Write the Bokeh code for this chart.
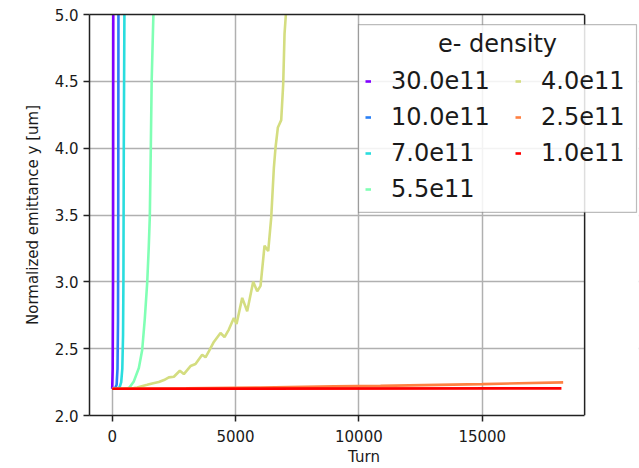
from bokeh.plotting import figure
from bokeh.models import (Legend, LegendItem, Label, FixedTicker, PrintfTickFormatter,
                          Range1d, LinearAxis, Span, BoxAnnotation)
from bokeh.embed import file_html
from bokeh.resources import INLINE

# Electron cloud density scan: vertical normalized emittance vs turn number
densities = ["30.0e11", "10.0e11", "7.0e11", "5.5e11", "4.0e11", "2.5e11", "1.0e11"]
colors = ["#8000ff", "#2a80f6", "#2addde", "#80ffb4", "#d4dd80", "#ff8042", "#ff0000"]

turns_30 = [0, 20, 35, 45]
emit_30 = [2.2, 2.35, 3.0, 5.3]

turns_10 = [0, 120, 180, 215, 235, 245, 255]
emit_10 = [2.2, 2.205, 2.23, 2.35, 2.7, 3.5, 5.3]

turns_7 = [0, 200, 300, 365, 410, 440, 455, 470, 495, 510]
emit_7 = [2.2, 2.202, 2.21, 2.25, 2.35, 2.6, 3.0, 4.0, 5.0, 5.3]

turns_55 = [0, 600, 700, 876, 1080, 1216, 1320, 1418, 1480, 1525, 1565, 1600, 1670, 1700]
emit_55 = [2.2, 2.201, 2.21, 2.255, 2.355, 2.49, 2.72, 2.99, 3.25, 3.49, 4.0, 4.5, 5.0, 5.3]

turns_40 = [0, 500, 877, 1013, 1420, 1620, 1890, 2100, 2296, 2500, 2742, 2904, 3175,
            3377, 3647, 3782, 3917, 4120, 4390, 4553, 4728, 4931, 5040, 5270, 5472,
            5715, 5878, 6013, 6175, 6324, 6446, 6554, 6621, 6716, 6851, 6932, 6986,
            7040, 7060]
emit_40 = [2.2, 2.201, 2.205, 2.21, 2.23, 2.24, 2.25, 2.265, 2.285, 2.29, 2.335, 2.31,
           2.37, 2.385, 2.455, 2.435, 2.48, 2.55, 2.617, 2.587, 2.643, 2.73, 2.685,
           2.88, 2.78, 3.0, 2.93, 2.97, 3.27, 3.23, 3.48, 3.855, 4.005, 4.155, 4.21,
           4.48, 4.855, 5.0, 5.2]

turns_25 = [0, 3000, 6000, 9000, 10876, 15000, 18280]
emit_25 = [2.2, 2.203, 2.21, 2.218, 2.222, 2.235, 2.248]

turns_10e = [0, 18210]
emit_10e = [2.2, 2.203]

x_ticks = [0, 5000, 10000, 15000]
y_ticks = [2.0, 2.5, 3.0, 3.5, 4.0, 4.5, 5.0]

series = [
    (turns_30, emit_30),
    (turns_10, emit_10),
    (turns_7, emit_7),
    (turns_55, emit_55),
    (turns_40, emit_40),
    (turns_25, emit_25),
    (turns_10e, emit_10e),
]

# axes box limits in data units; the canvas extends further right for the legend
X_LO, X_HI = -920, 19150
FONT = "DejaVu Sans"
TEXT = "#1a1a1a"
SPINE = "#222222"

p = figure(width=639, height=468, output_backend="svg", toolbar_location=None,
           x_range=Range1d(X_LO, 21334), y_range=Range1d(2.0, 5.0),
           min_border_left=89, min_border_right=1, min_border_top=14,
           min_border_bottom=53)
p.background_fill_color = "white"
p.border_fill_color = "white"
p.outline_line_color = None

renderers = []
for (xs, ys), c in zip(series, colors):
    r = p.line(xs, ys, line_color=c, line_width=2.6)
    renderers.append(r)

for ax in (p.xaxis[0], p.yaxis[0]):
    ax.axis_line_color = SPINE
    ax.axis_line_width = 1.5
    ax.major_tick_line_color = SPINE
    ax.major_tick_line_width = 1.5
    ax.major_tick_out = 6
    ax.major_tick_in = 0
    ax.minor_tick_line_color = None
    ax.major_label_text_font = FONT
    ax.major_label_text_font_size = "15px"
    ax.major_label_text_color = TEXT
    ax.axis_label_text_font = FONT
    ax.axis_label_text_font_size = "15px"
    ax.axis_label_text_font_style = "normal"
    ax.axis_label_text_color = TEXT

p.xaxis.ticker = FixedTicker(ticks=x_ticks)
p.xaxis.bounds = (X_LO, X_HI)
p.yaxis.ticker = FixedTicker(ticks=y_ticks)
p.yaxis.formatter = PrintfTickFormatter(format="%.1f")
p.xaxis.axis_label = "Turn"
p.yaxis.axis_label = "Normalized emittance y [um]"
p.xaxis.major_label_standoff = 8
p.xaxis.axis_label_standoff = 3
p.yaxis.major_label_standoff = 5
p.yaxis.axis_label_standoff = 10

p.grid.grid_line_color = "#b0b0b0"
p.grid.grid_line_width = 1.5

# top spine
top = LinearAxis(ticker=FixedTicker(ticks=[]), bounds=(X_LO, X_HI),
                 axis_line_color=SPINE, axis_line_width=1.5,
                 major_tick_line_color=None, minor_tick_line_color=None,
                 major_label_text_font_size="0px")
p.add_layout(top, "above")

# blank out the canvas strip right of the axes box, then the right spine
p.add_layout(BoxAnnotation(left=X_HI, fill_color="white", fill_alpha=1.0,
                           line_color=None))
p.add_layout(Span(location=X_HI, dimension="height", line_color=SPINE,
                  line_width=1.5))

# legend frame (semi-opaque white box) and its centred heading
p.add_layout(BoxAnnotation(left=9984, right=21253, top=4.925, bottom=3.519,
                           fill_color="white", fill_alpha=0.85,
                           line_color=SPINE, line_width=1.2))
p.add_layout(Label(x=15620, y=4.78, text="e- density", text_align="center",
                   text_baseline="middle", text_font=FONT, text_font_size="24px",
                   text_color=TEXT))

legend_style = dict(title=" ", title_text_font=FONT, title_text_font_size="24px",
                    title_standoff=12,
                    label_text_font=FONT, label_text_font_size="24px",
                    label_text_color=TEXT, label_standoff=20,
                    glyph_width=6, glyph_height=24, label_height=24,
                    spacing=8, padding=9, margin=0,
                    border_line_color=None, background_fill_alpha=0.0)

left_items = [LegendItem(label=lab, renderers=[r])
              for lab, r in zip(densities[:4], renderers[:4])]
right_items = [LegendItem(label=lab, renderers=[r])
               for lab, r in zip(densities[4:], renderers[4:])]

p.add_layout(Legend(items=left_items, location=(276, 212), **legend_style), "center")
p.add_layout(Legend(items=right_items, location=(426, 248), **legend_style), "center")

open("out.html", "w").write(file_html(p, INLINE))
